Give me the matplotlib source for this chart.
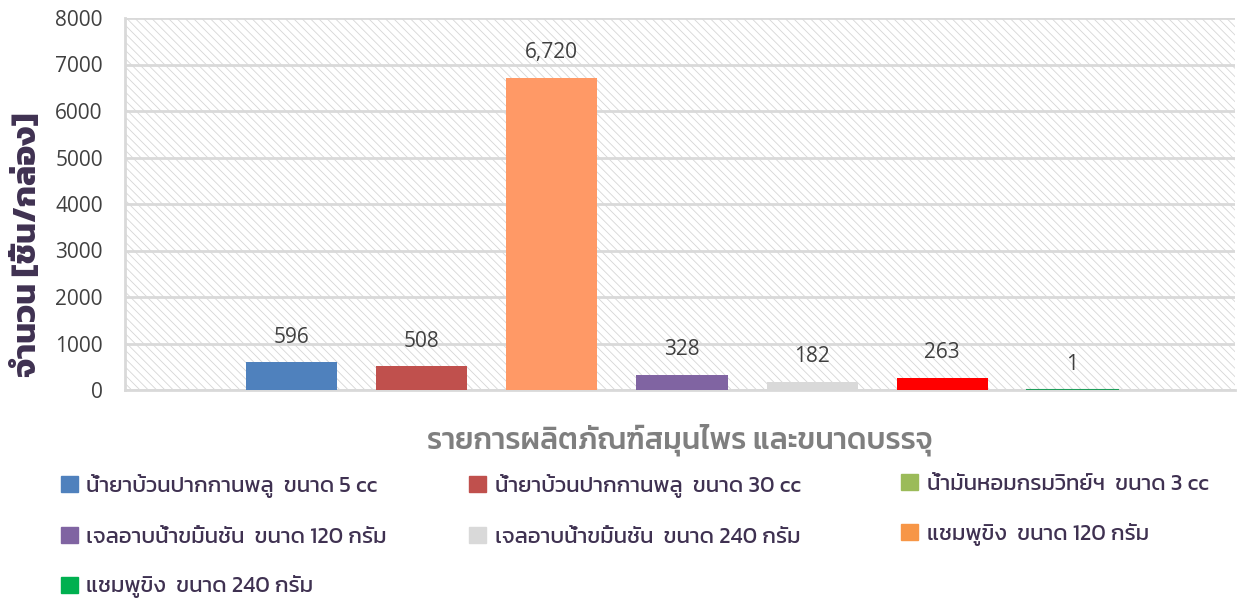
import matplotlib
matplotlib.use('Agg')
import matplotlib.pyplot as plt
import matplotlib.patches as mpatches
import numpy as np

# ข้อมูล (ลำดับแท่งตามภาพ, ช่องแรกว่าง)
bar_values = [0, 596, 508, 6720, 328, 182, 263, 1]
bar_colors = ['#9BBB59', '#4F81BD', '#C0504D', '#FF9966', '#8064A2', '#D9D9D9', '#FF0000', '#1F9D5A']

legend_labels = ['น้ำยาบ้วนปากกานพลู  ขนาด 5 cc',
                 'น้ำยาบ้วนปากกานพลู  ขนาด 30 cc',
                 'น้ำมันหอมกรมวิทย์ฯ  ขนาด 3 cc',
                 'เจลอาบน้ำขมิ้นชัน  ขนาด 120 กรัม',
                 'เจลอาบน้ำขมิ้นชัน  ขนาด 240 กรัม',
                 'แชมพูขิง  ขนาด 120 กรัม',
                 'แชมพูขิง  ขนาด 240 กรัม']
legend_colors = ['#4F81BD', '#C0504D', '#9BBB59', '#8064A2', '#D9D9D9', '#F79646', '#00B050']

y_ticks = [0, 1000, 2000, 3000, 4000, 5000, 6000, 7000, 8000]

thai = ['Kanit', 'DejaVu Sans']
num_font = ['Open Sans', 'DejaVu Sans']

plt.rcParams['hatch.linewidth'] = 0.6

fig = plt.figure(figsize=(12.38, 6), dpi=100)
ax = fig.add_axes([0.101, 0.35, 0.8966, 0.62])

# พื้นหลังลายเส้นทแยง
ax.add_patch(mpatches.Rectangle((0, 0), 1, 1, transform=ax.transAxes, facecolor='white',
                                edgecolor='#D6D6D6', hatch='\\\\\\\\', linewidth=0, zorder=0))

x = np.arange(len(bar_values))
bars = ax.bar(x, bar_values, width=0.7, color=bar_colors, zorder=3)
for xi, v in zip(x, bar_values):
    if v == 0:
        continue
    ax.annotate('{:,}'.format(v), (xi, v), xytext=(0, 18), textcoords='offset points',
                ha='center', va='center', fontsize=15, color='#404040', family=num_font, zorder=4)
# แท่งค่า 1 ให้เห็นเป็นเส้น
ax.plot([x[-1] - 0.35, x[-1] + 0.35], [8, 8], color=bar_colors[-1], lw=1.5, zorder=3)

ax.set_xlim(-0.28, 8.25)
ax.set_ylim(0, 8000)
ax.set_yticks(y_ticks)
ax.set_yticklabels([str(t) for t in y_ticks], fontsize=15, color='#404040', family=num_font)
ax.set_xticks([])
ax.tick_params(axis='y', length=0, pad=16)
ax.grid(axis='y', color='#D9D9D9', lw=2, zorder=1)
ax.set_axisbelow(True)
for s in ['top', 'right']:
    ax.spines[s].set_visible(False)
for s in ['left', 'bottom']:
    ax.spines[s].set_color('#D9D9D9')
    ax.spines[s].set_linewidth(2)
    ax.spines[s].set_zorder(2)

ax.set_ylabel('จำนวน [ชิ้น/กล่อง]', fontsize=24, fontweight='bold', color='#3F3151',
              family=thai)
ax.yaxis.set_label_coords(-0.074, 0.39)
fig.text(0.549, 0.267, 'รายการผลิตภัณฑ์สมุนไพร และขนาดบรรจุ', ha='center', va='center',
         fontsize=21.5, fontweight='medium', color='#7F7F7F', family=thai)

# คำอธิบายสัญลักษณ์ แยกเป็น 3 คอลัมน์
columns = [[0, 3, 6], [1, 4], [2, 5]]
col_x = [0.042, 0.372, 0.721]
for idx, cx in zip(columns, col_x):
    handles = [mpatches.Patch(color=legend_colors[i], label=legend_labels[i]) for i in idx]
    fig.legend(handles=handles, loc='upper left', bbox_to_anchor=(cx, 0.225), ncol=1,
               frameon=False, prop={'family': thai, 'size': 16},
               labelcolor='#3F3151', borderaxespad=0,
               handlelength=0.75, handleheight=0.75, handletextpad=0.4,
               labelspacing=1.3)

fig.savefig('out.png')
